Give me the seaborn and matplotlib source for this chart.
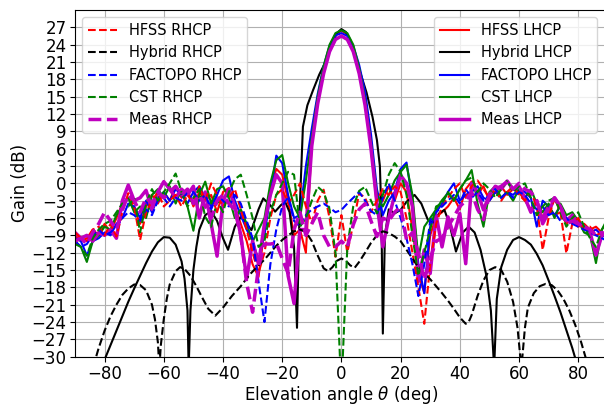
import numpy as np
import pandas as pd
import matplotlib
matplotlib.use("Agg")
import matplotlib.pyplot as plt
import seaborn as sns

# ---------------- data ----------------
theta = list(range(-90, 91, 2))

hfss_lhcp = [-9, -10, -9.5, -8, -9, -7, -8.5, -6, -3.5, -2.5,
             -4.5, -7, -4, -2, -3.5, -1.5, -3, -0.5, -2.5, -1,
             -4, -1.5, -3, -2, -5, -1.5, -0.8, -4, -7, -10,
             -14, -16.2, -8, -1, 2.5, 1.5, -3, -9, -8, -12,
             7, 14.5, 19.8, 23.6, 25.8, 26.4, 25.8, 23.5, 19.5, 14,
             6, -4, -3, -0.5, -3, 0, -1.5, -8, -15.6, -19,
             -9, -5.8, -5, -4, -2.5, -4.5, -1, 0.3, -2, -0.5,
             -3, -1.5, -0.5, -2, -1, -1.5, -3, -4.5, -3, -6,
             -4, -5.5, -5, -7, -6, -7.5, -7, -8, -7.5, -8.5,
             -9]

factopo_lhcp = [-9.5, -10, -12.5, -10, -9.5, -8.5, -9, -7, -6, -3.5,
                -4, -6, -3, -5, -2.5, -1.5, -3, -1, -2, -3.5,
                -1.5, -0.5, -2.5, -4, -2, 0.5, 1.2, -3, -5.5, -8,
                -10, -13.3, -9, -2, 4.8, 3.5, -2, -6, -5.5, 3,
                9.5, 15.5, 20.3, 23.8, 25.6, 26, 25.5, 23.8, 20.5, 15.8,
                8.5, -1, -5.5, -3, -1.5, 2.5, 3.6, -3, -14, -19,
                -7.5, -5, -3.5, -1.5, 0, -3, -2, -1.5, -0.5, -2.5,
                -3, -1.5, -2.5, -1.5, -2, -1, -1.5, -2.5, -7.5, -3,
                -4, -5.5, -4, -6, -7, -6.5, -7.5, -8.5, -8, -9,
                -9.5]

cst_lhcp = [-10, -11, -13.6, -10, -9, -7.5, -8, -5.5, -4, -2.5,
            -5, -4, -6, -2, -1, -2.5, -0.5, -3.5, -1, -4,
            -8.2, -2, 0.3, -3.5, -1, -0.5, -2.5, -6, -4.5, -7,
            -10.1, -8, -6, 0, 4, 4.9, 0, -4, -6, 0.5,
            8, 15, 20.3, 24, 26, 26.5, 26, 24, 20, 14.5,
            7, -2, -4, -2, 0.5, 2, 3.2, -2, -13, -7.5,
            -6, -4.5, -2.9, -1.7, -3, -1, 0.5, 2.3, -3.5, -7.5,
            -1.5, -0.5, -2.5, -1.5, -3, -1, -2.5, -1, -3.5, -5,
            -3.5, -6, -3.5, -5.5, -5, -6.5, -8.5, -9, -13.8, -8,
            -6]

meas_lhcp = [-8.5, -9.5, -9, -10, -8.5, -9, -8, -9.5, -3, -0.3,
             -3, -2.5, -1.2, -4.5, -1.5, 0.3, -1, -2.5, -1, -2,
             -0.5, -6, -1.5, -7, -12.6, -3, -1, -4, -9, -16.5,
             -10, -14, -7, -2, 1.5, 0, -16, -20.8, -8, -8,
             6.5, 13.8, 19, 22.8, 24.9, 25.5, 24.9, 22.8, 19, 13.5,
             6, -3.5, -11, -6, -2, 1.4, 0, -4, -17, -11.5,
             -15.6, -5.5, -11, -5.8, -9, -5.2, -13.9, 0, -1.5, -4.6,
             -2, -0.5, -1, 0.4, -1, -0.5, -2.5, -5, -3, -7,
             -5, -2.5, -4, -6.5, -5.5, -7, -7.5, -8.5, -12.4, -9,
             -8]

hfss_rhcp = [-8.5, -9.5, -10, -8, -7.5, -9, -7, -9.2, -5, -1.7,
             -4, -9.8, -5, -3, -1.5, -4, -3, -2, -4, -2,
             -3.5, -0.5, -3, 0, -2, -4, -2.5, -1, -4.5, -8,
             -12, -15.5, -12, -6, -2, -1, -3.5, -2, 0, -4,
             -6.9, -3, -1.1, -6, -12.7, -5.5, -12, -7, -1.7, -2.5,
             -5, -3, -1, -2, -0.5, -1.5, -6, -12, -18, -24.3,
             -14, -7, -4, -2.5, -1, 0, -2.5, -0.5, 0.5, -1,
             -2.5, -1, -3, -1.5, -0.5, -2, -3, -1.5, -4, -11.5,
             -6, -2.5, -5, -12.1, -7, -6, -8, -7.5, -9, -8.5,
             -9]

factopo_rhcp = [-10, -11, -10.5, -9, -8, -9, -8.5, -7.5, -6, -5,
                -5.5, -6.5, -4.5, -5.5, -3, -2.5, -4, -2.5, -3, -1.5,
                -1.5, -3, -2, -4.5, -2, -3, -4, -2, -3.5, -6.5,
                -9.5, -17, -24, -14, -8, -4, -2.3, -6.5, -7.5, -5.5,
                -4.5, -4, -3.5, -4.2, -5, -4.6, -3.5, -2.5, -1.5, -3,
                -4.8, -5.5, -2.5, 0, -3, -6, -9.5, -14, -19.5, -14,
                -6.5, -5, -4, -3, -2, -3.5, -1, -2.5, -1.5, -3,
                -2, -1, -2.5, -1.5, -2.5, -1.5, -2, -3.5, -4.5, -4,
                -5.5, -5, -6.5, -6, -7, -7.5, -8, -8.5, -9, -9.5,
                -10]

cst_rhcp = [-10.5, -11, -12.5, -9.5, -8, -7, -6.5, -5, -3.5, -4,
            -2.5, -8.5, -3.5, -1, -3, -1.5, 0, 1.7, -1.5, -4,
            -2.5, -1, -5.8, -7.5, -3, -5, -1.5, 0.7, 1.5, -2,
            -6, -11, -10, -5, -2, 0, 2, 1.5, -7.5, -6,
            -3, -0.6, -1.5, -4.5, -12, -36, -11, -4, -1.3, -0.6,
            -3, -5.2, -2, 1.5, 3.5, 2, -2, -9, -16, -12,
            -8, -4, -3.5, -1.5, -3, -1, 0.5, 1, -1.5, 0,
            -1, -2.5, -1, 0.5, -1.5, -0.5, 0, -2.5, -5.5, -4,
            -3, -2.5, -5, -7.5, -6, -5, -7.5, -9.5, -11, -8,
            -6.5]

meas_rhcp = [-10, -9.5, -10.5, -8.5, -7, -5, -6.5, -8, -4.5, -2,
             -3, -5, -2.5, -3.5, -1.5, -2.5, -1.5, -0.5, -2, -1,
             -3.5, -2, -4, -6, -3, -2, -3.5, -4.6, -9, -17.3,
             -22.3, -14.5, -10.5, -10.5, -10.3, -13, -15.6, -8, -5, -9,
             -7, -5, -9, -11, -11, -10, -11, -7.2, -4.5, -3.5,
             -6.5, -9.2, -6, -6.5, -5, -4, -9.8, -8.5, -12, -16.7,
             -13, -10, -9.5, -7.5, -5.8, -4, -3, -1.5, -4.5, -6.3,
             -2, -1, -0.5, 0.3, -1, 0, -1, -1.5, -3, -6,
             -4, -2.5, -4, -7, -6.5, -7, -7.5, -8, -9, -8.5,
             -9.5]

hyb_lhcp_theta = [-90, -82, -80, -78, -76, -74, -72, -70, -68, -66, -64, -62,
                  -60, -58, -56, -54, -53, -52, -51.6, -51, -50, -49, -48,
                  -46, -44, -42, -40, -38.3, -36, -34, -32, -30.4, -28,
                  -26.4, -24, -22.4, -20.5, -19, -17.5, -16, -15, -14.2,
                  -13, -11.5, -9.6, -7.5, -5.1, -3, -1.5, 0, 1.5, 3, 4.5,
                  6, 8.5, 10.5, 12, 13, 13.5, 14, 14.7, 16, 18, 20, 22,
                  24.7, 27, 29.2, 31, 33, 34.8, 36.5, 38.7, 41, 43, 45,
                  47, 49, 50.5, 51.6, 52.5, 54, 56, 58, 60, 62, 64, 66,
                  68, 70, 72, 74, 76, 78, 80, 82, 90]
hyb_lhcp = [-45, -35, -30.5, -28, -25.5, -23, -20.5, -18.2, -16, -13.8, -11.8, -10.2,
            -9.3, -9.4, -10.6, -13.5, -16.5, -22, -32, -22, -15, -11, -8,
            -5.5, -4.8, -6.5, -9.5, -11.5, -7.5, -5.8, -7, -8.1, -4.5,
            -2.6, -3.8, -4.9, -3.8, -3.2, -5, -11, -25, -6,
            9.8, 13.5, 16.1, 18.8, 21.3, 24.3, 26, 26.7, 26.2, 24.8, 22.5,
            19.8, 15.7, 11.5, 7.5, 3, -5, -26, -9, -4.5, -5.2, -4.6, -3.2,
            -2, -3.5, -6.3, -6.8, -5.2, -4.6, -7, -11.8, -8.5, -7.5, -8.5,
            -11.5, -16, -22, -32, -20, -14.5, -11.5, -9.8, -9.3, -9.8, -10.6, -12.2,
            -14.2, -16.8, -19.5, -22.3, -25.4, -28.5, -32, -35, -45]

hyb_rhcp_theta = [-90, -84, -82, -80, -78, -76, -74, -72, -70, -68, -66, -64,
                  -63, -62, -61.5, -61, -60, -59, -58, -56, -54.5, -53, -51,
                  -49, -47, -45, -42.6, -40, -37, -34, -31, -28, -26, -24,
                  -22, -20, -18, -16, -14, -12, -10, -8, -6, -4.5, -3, -1.5,
                  0, 1.5, 3, 4.5, 6, 8, 10, 12, 14, 16, 18, 20, 22, 24, 26,
                  28, 30, 32, 34, 36, 38, 40, 42, 43, 44, 46, 48, 50, 52, 54,
                  56, 58, 59.5, 60.8, 62, 63, 65, 67, 69, 71, 73, 75, 77, 79,
                  81, 83, 90]
hyb_rhcp = [-40, -32, -28.5, -25.5, -23, -21, -19.3, -18.2, -17.5, -17.6, -18.5, -21,
            -23.5, -27.5, -32, -28, -23.5, -20, -17.5, -15.2, -14.5, -14.8, -16,
            -17.8, -19.8, -21.7, -22.9, -21.5, -19.5, -17.8, -15.8, -14.2, -13.2, -12,
            -10.8, -9.8, -9, -8.3, -8, -8.4, -10, -12.5, -14.7, -15.2, -14.5, -13.4,
            -13, -13.4, -14.2, -14.6, -13.6, -12, -10.3, -9, -8.3, -8.6, -9.2, -10, -11.5, -13, -14.5,
            -15.6, -16.6, -17.8, -19, -20.3, -21.7, -23.2, -24.3, -24, -22.8, -19.5, -16.8, -15, -14.5, -15,
            -17, -20.5, -25, -32, -25, -21.5, -19, -17.8, -17.4, -17.6, -18.5, -20, -22, -24.5,
            -27.5, -31, -40]

xticks = [-80, -60, -40, -20, 0, 20, 40, 60, 80]
yticks = list(range(-30, 30, 3))

# ---------------- plot ----------------
plt.rcParams["font.size"] = 12
fig = plt.figure(figsize=(6.04, 4.07), dpi=100)
ax = fig.add_axes([75 / 604, (407 - 356.7) / 407, 532.8 / 604, 346.7 / 407])

rhcp = [("HFSS RHCP", theta, hfss_rhcp, "r", 1.5),
        ("Hybrid RHCP", hyb_rhcp_theta, hyb_rhcp, "k", 1.5),
        ("FACTOPO RHCP", theta, factopo_rhcp, "b", 1.5),
        ("CST RHCP", theta, cst_rhcp, "g", 1.5),
        ("Meas RHCP", theta, meas_rhcp, "m", 2.5)]
lhcp = [("HFSS LHCP", theta, hfss_lhcp, "r", 1.5),
        ("Hybrid LHCP", hyb_lhcp_theta, hyb_lhcp, "k", 1.5),
        ("FACTOPO LHCP", theta, factopo_lhcp, "b", 1.5),
        ("CST LHCP", theta, cst_lhcp, "g", 1.5),
        ("Meas LHCP", theta, meas_lhcp, "m", 2.5)]

h_r, h_l = [], []
for name, xs, ys, c, lw in lhcp:
    df = pd.DataFrame({"theta": xs, "gain": ys})
    sns.lineplot(data=df, x="theta", y="gain", color=c, lw=lw, ax=ax,
                 label=name, legend=False, sort=False)
    h_l.append(ax.lines[-1])
for name, xs, ys, c, lw in rhcp:
    df = pd.DataFrame({"theta": xs, "gain": ys})
    sns.lineplot(data=df, x="theta", y="gain", color=c, lw=lw, ax=ax,
                 label=name, legend=False, sort=False, linestyle="--")
    h_r.append(ax.lines[-1])

ax.set_xlim(-90, 90)
ax.set_ylim(-30, 30)
ax.set_xticks(xticks)
ax.set_yticks(yticks)
ax.tick_params(axis="both", pad=2.5)
ax.grid(True, color="#b0b0b0", lw=0.8)
ax.set_axisbelow(True)
ax.set_xlabel(r"Elevation angle $\theta$ (deg)", labelpad=1)
ax.set_ylabel("Gain (dB)", labelpad=2)

leg1 = ax.legend(handles=h_r, labels=[r[0] for r in rhcp], loc="upper left",
                 fontsize=10.5)
ax.add_artist(leg1)
ax.legend(handles=h_l, labels=[l[0] for l in lhcp], loc="upper right",
          fontsize=10.5, bbox_to_anchor=(0.993, 1.0))

fig.savefig("out.png", dpi=100)
